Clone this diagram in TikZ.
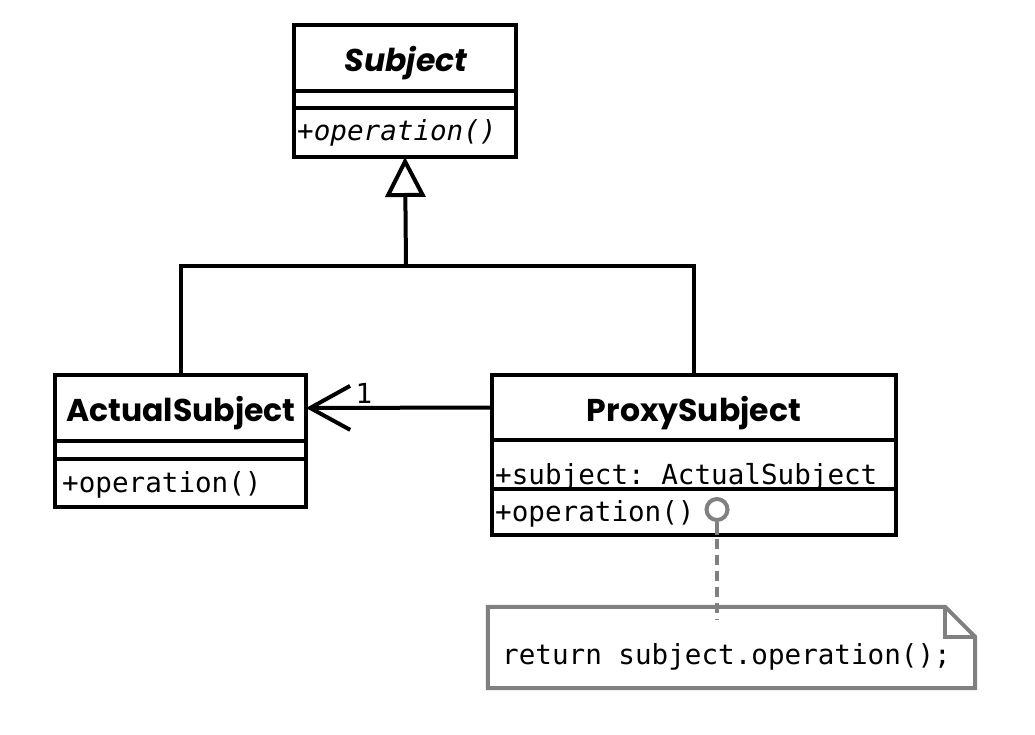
\documentclass[tikz,border=0pt]{standalone}
\usepackage{fontspec}
\newfontfamily\titlefont{Poppins}
\setmonofont{DejaVu Sans Mono}
\usetikzlibrary{arrows.meta,calc}
\definecolor{notegray}{HTML}{808080}
\newcommand{\monosize}{\fontsize{27.6}{32}\selectfont}
\newcommand{\titlesize}{\fontsize{31.5}{38}\selectfont}
\begin{document}
\begin{tikzpicture}[x=1pt,y=-1pt,
  part/.style={draw=black,line width=4pt,rectangle,anchor=north west,inner sep=0pt,outer sep=0pt},
  title/.style={font=\titlefont\bfseries\titlesize},
  member/.style={font=\ttfamily\monosize,anchor=base west,inner sep=0pt},
  link/.style={line width=4pt,black},
  gray link/.style={line width=4pt,notegray}]
\useasboundingbox (0,0) rectangle (1035,735);

% Subject (abstract)
\node[part,minimum width=222pt,minimum height=66pt] (subjT) at (294,25) {};
\node[part,minimum width=222pt,minimum height=17pt] (subjA) at (294,91) {};
\node[part,minimum width=222pt,minimum height=49pt] (subjM) at (294,108) {};
\node[title,font=\titlefont\bfseries\itshape\titlesize,anchor=base] at (406,72) {Subject};
\node[member,font=\ttfamily\itshape\monosize] at (297,141) {+operation()};

% ActualSubject
\node[part,minimum width=251pt,minimum height=66pt] (actT) at (55,375) {};
\node[part,minimum width=251pt,minimum height=18pt] (actA) at (55,441) {};
\node[part,minimum width=251pt,minimum height=48pt] (actM) at (55,459) {};
\node[title,anchor=base] at (181,421) {ActualSubject};
\node[member] at (62,492) {+operation()};

% ProxySubject
\node[part,minimum width=404pt,minimum height=65pt] (proxT) at (492,375) {};
\node[title,anchor=base] at (694,421) {ProxySubject};
\node[member] at (495,484) {+subject: ActualSubject};
\node[part,minimum width=404pt,minimum height=49pt] (proxA) at (492,440) {};
\node[part,minimum width=404pt,minimum height=46pt] (proxM) at (492,489) {};
\node[member] at (495,521) {+operation()};

% generalisation tree
\coordinate (joint) at (406,266);
\draw[link,-{Triangle[open,length=40pt,width=40pt]}] (joint) -- (subjM.south);
\draw[link] (actT.north) |- (joint) -| (proxT.north);

% association
\draw[link,-{Straight Barb[length=40pt,width=44pt]}] (proxT.west) -- (actT.east);
\node[font=\ttfamily\monosize,inner sep=0pt] (mult) at (364,393) {1};

% note attached to the operation
\node[inner sep=0pt,minimum width=487pt,minimum height=81pt] (note) at (731.5,647.5) {};
\draw[gray link,line join=miter,fill=white]
  (note.north west) -- ($(note.north east)+(-30,0)$) -- ($(note.north east)+(0,30)$)
  -- (note.south east) -- (note.south west) -- cycle;
\draw[gray link] ($(note.north east)+(-30,0)$) |- ($(note.north east)+(0,30)$);
\node[font=\ttfamily\monosize,anchor=base,inner sep=0pt] (notetext) at (726.5,664) {return subject.operation();};
\node[circle,draw=notegray,line width=4pt,minimum size=21pt,inner sep=0pt,fill=white] (port) at (717,509.5) {};
\coordinate (noteend) at (717,620);
\draw[gray link] (port.south) -- (proxM.south -| port.south);
\draw[gray link,dash pattern=on 10pt off 6pt] (proxM.south -| port.south) ++(0,4) -- (noteend);
\end{tikzpicture}
\end{document}
